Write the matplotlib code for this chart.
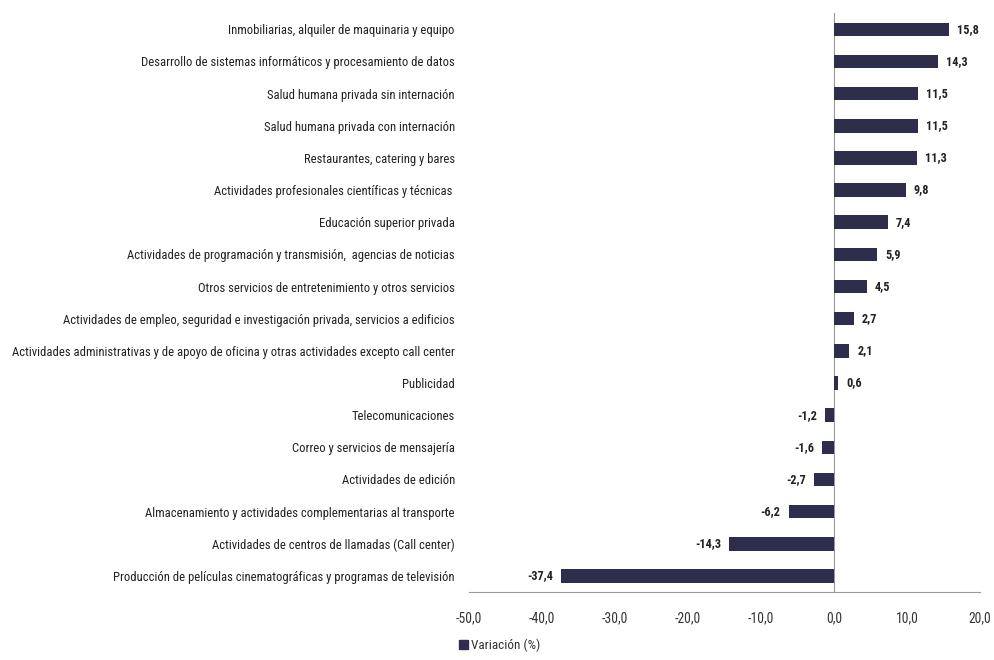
import matplotlib.pyplot as plt
from matplotlib.patches import Patch
from matplotlib import font_manager

# datos: variacion interanual por actividad (%)
categorias = [
    "Inmobiliarias, alquiler de maquinaria y equipo",
    "Desarrollo de sistemas informáticos y procesamiento de datos",
    "Salud humana privada sin internación",
    "Salud humana privada con internación",
    "Restaurantes, catering y bares",
    "Actividades profesionales científicas y técnicas ",
    "Educación superior privada",
    "Actividades de programación y transmisión,  agencias de noticias",
    "Otros servicios de entretenimiento y otros servicios",
    "Actividades de empleo, seguridad e investigación privada, servicios a edificios",
    "Actividades administrativas y de apoyo de oficina y otras actividades excepto call center",
    "Publicidad",
    "Telecomunicaciones",
    "Correo y servicios de mensajería",
    "Actividades de edición",
    "Almacenamiento y actividades complementarias al transporte",
    "Actividades de centros de llamadas (Call center)",
    "Producción de películas cinematográficas y programas de televisión",
]
variacion = [15.8, 14.3, 11.5, 11.5, 11.3, 9.8, 7.4, 5.9, 4.5, 2.7, 2.1, 0.6,
             -1.2, -1.6, -2.7, -6.2, -14.3, -37.4]
ticks_x = [-50, -40, -30, -20, -10, 0, 10, 20]
etiqueta_serie = "Variación (%)"

color_barra = '#2e2e4c'

# buscar una fuente angosta si hay, si no Liberation Sans
nombres = set(f.name for f in font_manager.fontManager.ttflist)
angosta = None
for n in ['Liberation Sans Narrow', 'Roboto Condensed', 'DejaVu Sans Condensed',
          'Open Sans Condensed', 'Noto Sans Condensed']:
    if n in nombres:
        angosta = n
        break
if angosta:
    narrow = [angosta, 'DejaVu Sans']
    tam_cat = 9.1
else:
    narrow = ['Liberation Sans', 'DejaVu Sans']
    tam_cat = 7.4

fig = plt.figure(figsize=(9.95, 6.6), dpi=100)
ax = fig.add_axes([0.471, 0.103, 0.514, 0.877])

y = list(range(len(categorias)))
ax.barh(y, variacion, height=0.42, color=color_barra, zorder=3)
ax.set_ylim(len(categorias) - 0.5, -0.5)
ax.set_xlim(-50, 20)

for yi, v in zip(y, variacion):
    txt = ("%.1f" % v).replace('.', ',')
    if v >= 0:
        ax.text(v + 1.1, yi, txt, va='center', ha='left', fontsize=8.8,
                fontweight='bold', family=narrow, color='#222222')
    else:
        ax.text(v - 1.1, yi, txt, va='center', ha='right', fontsize=8.8,
                fontweight='bold', family=narrow, color='#222222')

ax.set_yticks(y)
ax.set_yticklabels(categorias, fontsize=tam_cat, family=narrow, color='#222222')
ax.tick_params(axis='y', length=0, pad=10)

ax.set_xticks(ticks_x)
ax.set_xticklabels([("%.1f" % t).replace('.', ',') for t in ticks_x],
                   fontsize=9.8, family=narrow, color='#333333')
ax.tick_params(axis='x', length=0, pad=14)

for s in ['top', 'right', 'left']:
    ax.spines[s].set_visible(False)
ax.spines['bottom'].set_color('#999999')
ax.axvline(0, color='#999999', lw=0.8, zorder=2)

leg = fig.legend(handles=[Patch(color=color_barra, label=etiqueta_serie)],
                 loc='upper left', bbox_to_anchor=(0.456, 0.04), frameon=False,
                 prop={'family': narrow, 'size': 9.5}, handlelength=0.7,
                 handleheight=0.7, handletextpad=0.2, borderaxespad=0)
for t in leg.get_texts():
    t.set_color('#333333')

fig.savefig('out.png', dpi=100)
